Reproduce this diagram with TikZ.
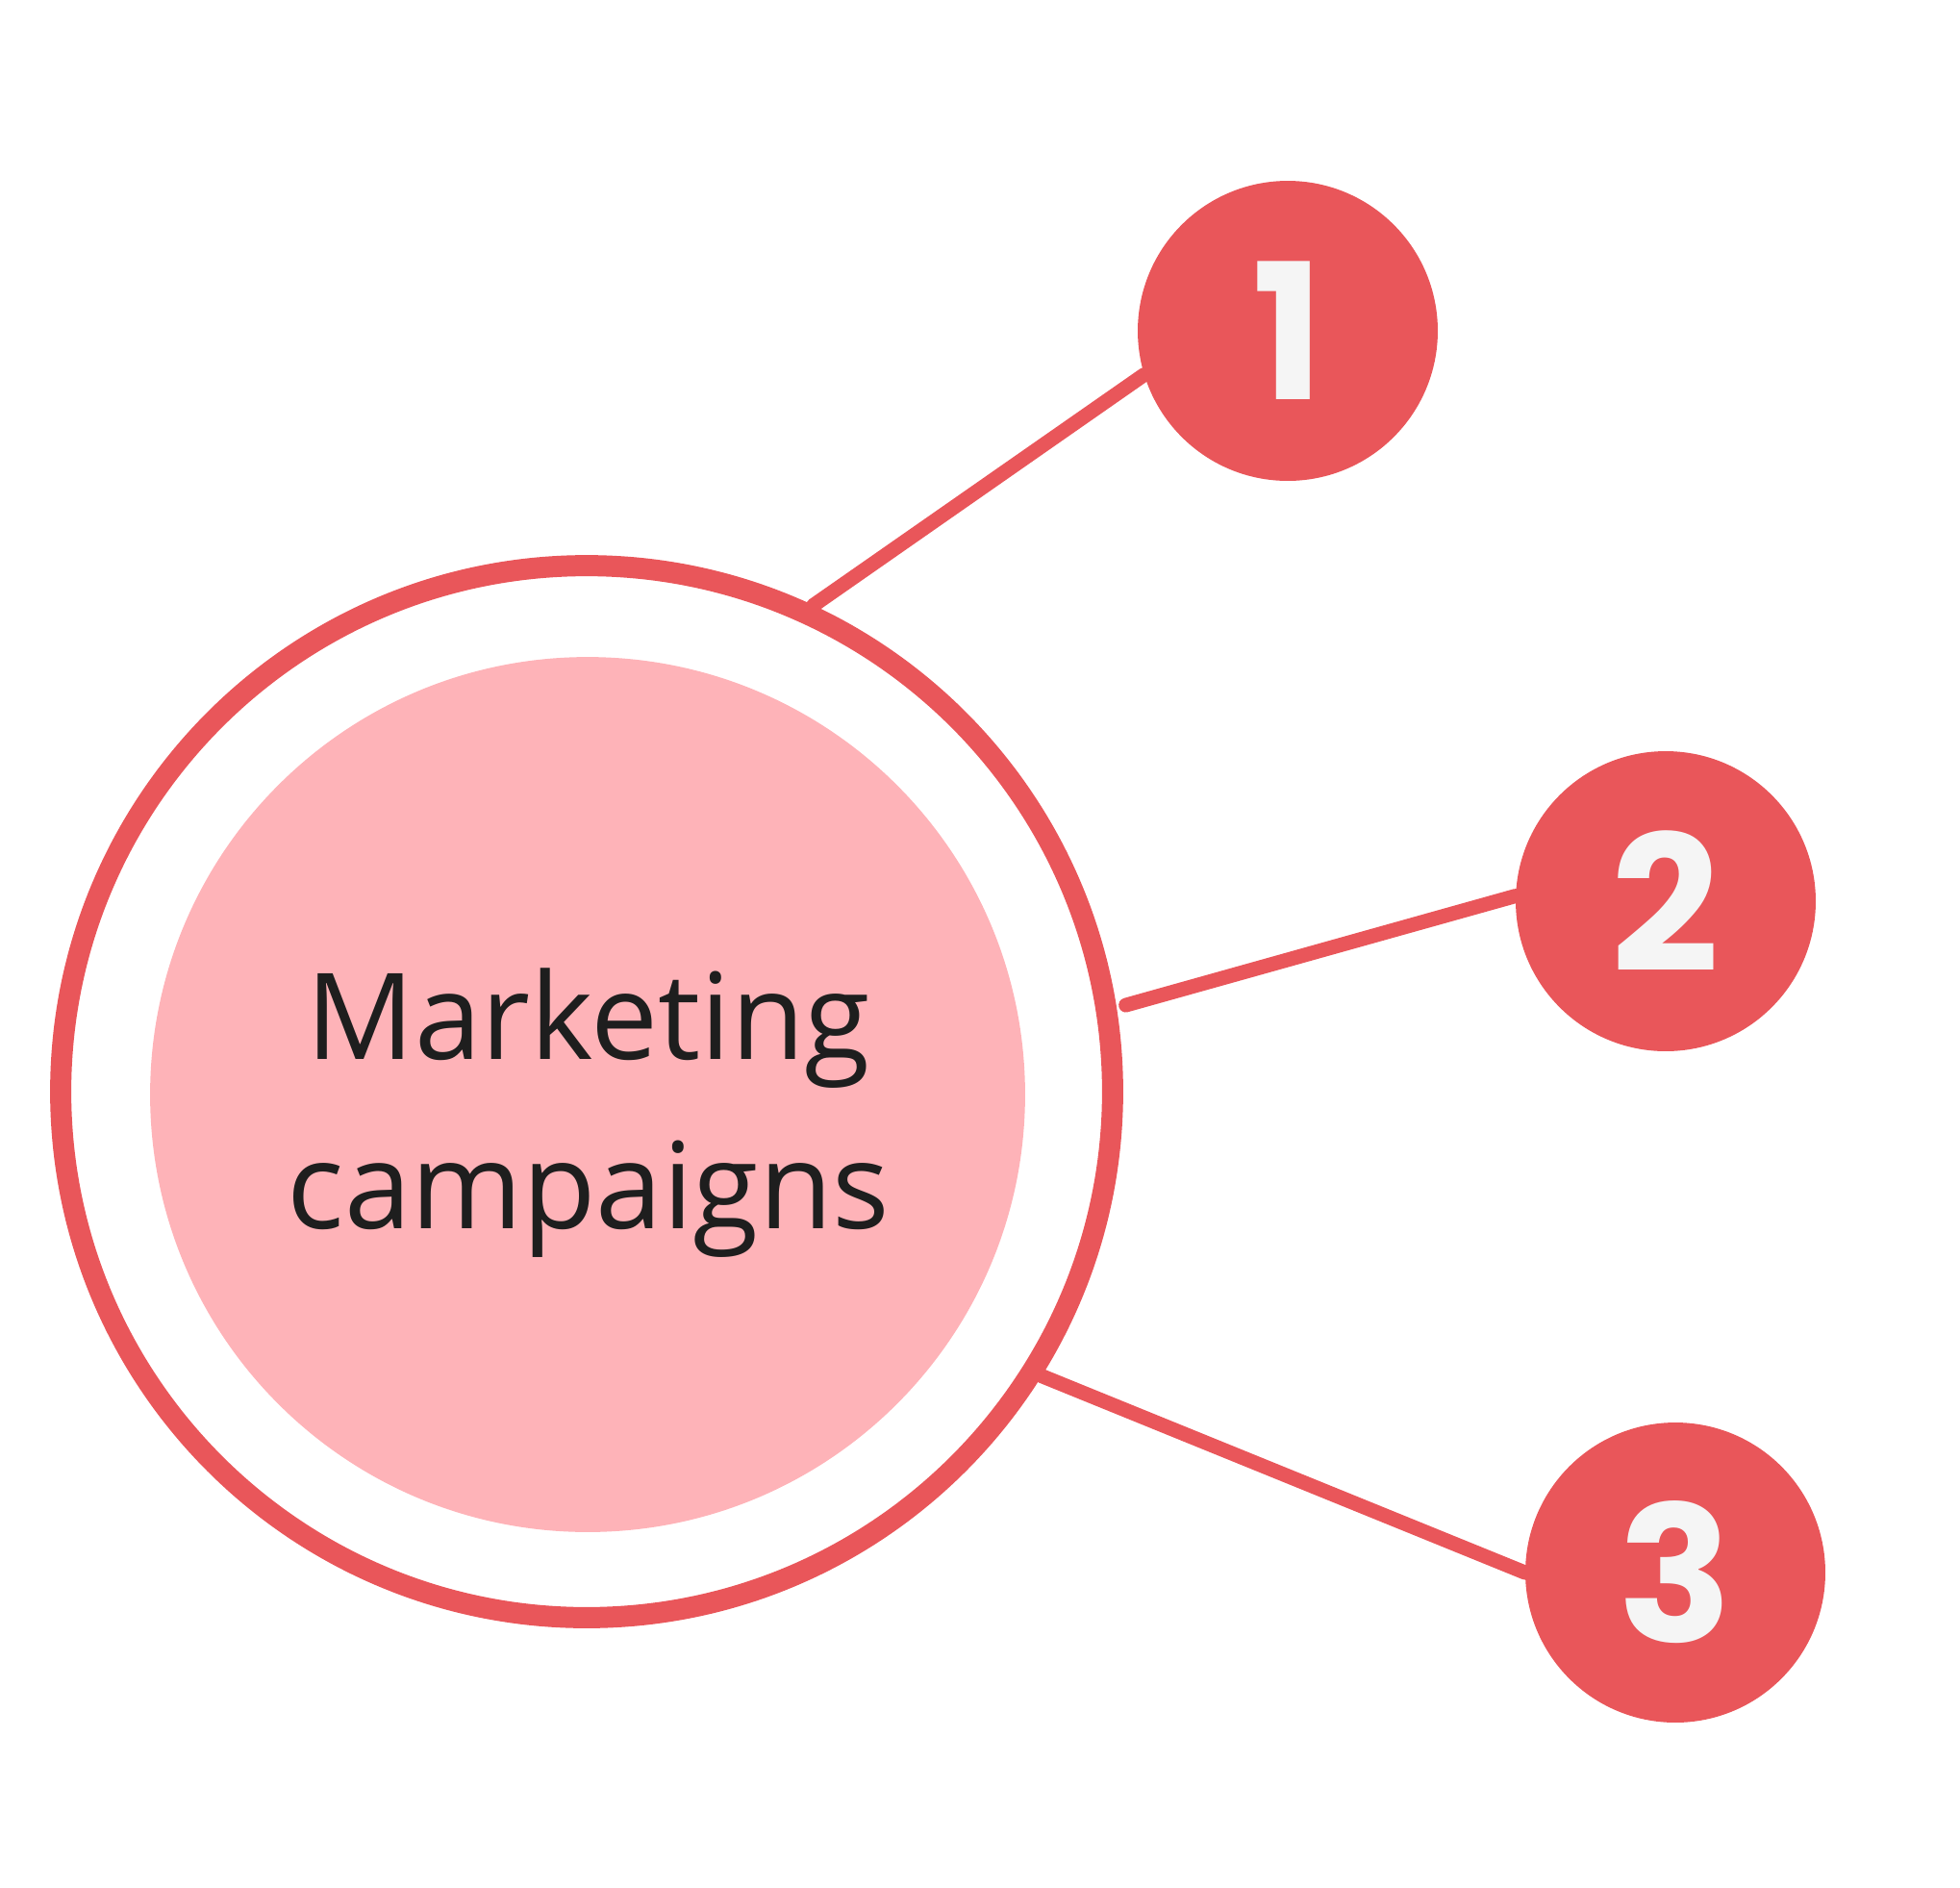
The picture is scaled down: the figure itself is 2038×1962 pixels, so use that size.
\documentclass[tikz,border=0pt]{standalone}
\usepackage{fontspec}
\usepackage{xcolor}
\usepackage{tikz}
\usetikzlibrary{positioning,calc}
\newfontfamily\labelfont{Open Sans}
\newfontfamily\digitfont{Poppins}
\definecolor{ringred}{HTML}{E9565A}
\definecolor{corepink}{HTML}{FEB3B8}
\definecolor{inkgray}{HTML}{1E1E1E}
\definecolor{digitwhite}{HTML}{F5F5F5}

\begin{document}
\begin{tikzpicture}[
  x=0.02cm, y=-0.02cm,
  hub/.style={circle, draw=ringred, line width=0.44cm,
              minimum size=21.88cm, inner sep=0pt},
  core/.style={circle, fill=corepink, minimum size=18.2cm, inner sep=0pt},
  caption/.style={align=center, text=inkgray, inner sep=0pt,
                  font=\labelfont\fontsize{71}{100}\selectfont},
  badge/.style={circle, fill=ringred, minimum size=6.24cm, inner sep=0pt,
                text=digitwhite, font=\digitfont\bfseries\fontsize{112}{112}\selectfont},
  link/.style={draw=ringred, line width=0.3cm, line cap=round}
]
  \useasboundingbox (0,0) rectangle (2038,1962);

  \node[hub] (hub) at (610,1135) {};
  \node[core] (core) at (611,1138) {};
  \node[caption] (title) at (612,1157) {Marketing\\campaigns};

  \node[badge] (n1) at (1339,344) {1};
  \node[badge] (n2) at (1732,937) {2};
  \node[badge] (n3) at (1742,1635) {3};

  \draw[link] (hub.65.6) -- (n1.197);
  \draw[link, shorten <=0.2cm] (hub.9) -- (n2.178);
  \draw[link] (hub.-32.2) -- (n3.180);
\end{tikzpicture}
\end{document}
